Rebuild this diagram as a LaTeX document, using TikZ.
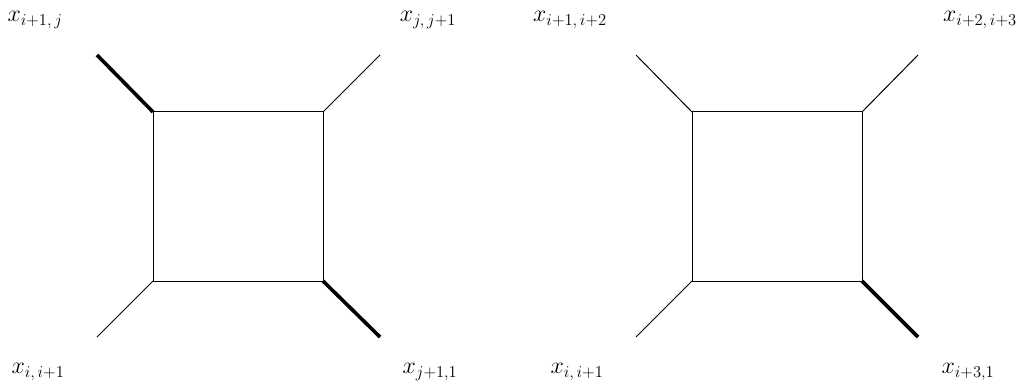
\documentclass[tikz,border=0pt]{standalone}
\begin{document}
\begin{tikzpicture}[x=1pt,y=-1pt,
  thinline/.style={line width=1.0pt},
  thickline/.style={line width=3.6pt},
  lab/.style={inner sep=0pt,font=\huge,scale=1.15}]
\useasboundingbox (0,0) rectangle (1024,385);
% left square
\coordinate (A1) at (153,112); \coordinate (A2) at (323,112);
\coordinate (A3) at (323,281); \coordinate (A4) at (153,281);
\coordinate (a1) at (97,55); \coordinate (a2) at (380,55);
\coordinate (a3) at (380,337); \coordinate (a4) at (97,337);
\draw[thinline] (A1) -- (A2) -- (A3) -- (A4) -- cycle;
\draw[thickline] (A1) -- (a1);
\draw[thinline] (A2) -- (a2);
\draw[thickline] (A3) -- (a3);
\draw[thinline] (A4) -- (a4);
% right square
\coordinate (B1) at (692,112); \coordinate (B2) at (862,112);
\coordinate (B3) at (862,281); \coordinate (B4) at (692,281);
\coordinate (b1) at (636,55); \coordinate (b2) at (918,55);
\coordinate (b3) at (918,337); \coordinate (b4) at (636,337);
\draw[thinline] (B1) -- (B2) -- (B3) -- (B4) -- cycle;
\draw[thinline] (B1) -- (b1);
\draw[thinline] (B2) -- (b2);
\draw[thickline] (B3) -- (b3);
\draw[thinline] (B4) -- (b4);
% labels
\node[lab] (l1) at (35,20) {$x_{i+1,\,j}$};
\node[lab] (l2) at (428,20) {$x_{j,\,j+1}$};
\node[lab] (l3) at (570,20) {$x_{i+1,\,i+2}$};
\node[lab] (l4) at (980,20) {$x_{i+2,\,i+3}$};
\node[lab] (l5) at (38,372) {$x_{i,\,i+1}$};
\node[lab] (l6) at (430,372) {$x_{j+1,1}$};
\node[lab] (l7) at (577,372) {$x_{i,\,i+1}$};
\node[lab] (l8) at (968,372) {$x_{i+3,1}$};
\end{tikzpicture}
\end{document}
